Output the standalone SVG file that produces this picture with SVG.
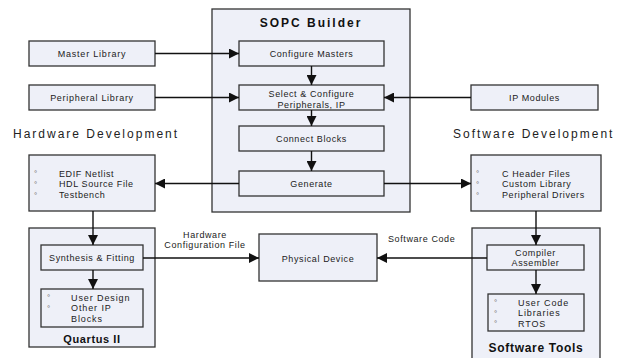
<svg xmlns="http://www.w3.org/2000/svg" width="619" height="358" viewBox="0 0 619 358">
<style>
.box{fill:#eef0f8;stroke:#333;stroke-width:1.3}
.t{font-family:"Liberation Sans",Arial,sans-serif;font-size:9px;letter-spacing:0.6px;fill:#222}
.c{text-anchor:middle}
.h{font-family:"Liberation Sans",Arial,sans-serif;font-size:12px;letter-spacing:2px;fill:#222}
.b{font-family:"Liberation Sans",Arial,sans-serif;font-weight:bold;font-size:12px;text-anchor:middle;fill:#111}
.bul{font-family:"Liberation Sans",Arial,sans-serif;font-size:8px;fill:#666}
.ln{stroke:#111;stroke-width:1.4;fill:none}
.arr{marker-end:url(#ah)}
</style>
<defs>
<marker id="ah" markerUnits="userSpaceOnUse" markerWidth="10" markerHeight="10" viewBox="0 0 10 10" refX="10" refY="5" orient="auto">
<path d="M0,0 L10,5 L0,10 Z" fill="#111"/>
</marker>
</defs>

<g id="sopc">
<rect class="box" x="212" y="9" width="198" height="203"/>
<text class="b" x="311" y="27" style="letter-spacing:2px">SOPC Builder</text>
</g>
<g id="configure-masters">
<rect class="box" x="239" y="41" width="145" height="25"/>
<text class="t c" x="311.5" y="57">Configure Masters</text>
</g>
<g id="select-configure">
<rect class="box" x="239" y="85" width="145" height="25"/>
<text class="t c" x="311.5" y="97">Select &amp; Configure</text>
<text class="t c" x="311.5" y="107.5">Peripherals, IP</text>
</g>
<g id="connect-blocks">
<rect class="box" x="239" y="126" width="145" height="25"/>
<text class="t c" x="311.5" y="141.5">Connect Blocks</text>
</g>
<g id="generate">
<rect class="box" x="239" y="171" width="145" height="25"/>
<text class="t c" x="311.5" y="186.5">Generate</text>
</g>
<g id="master-library">
<rect class="box" x="29" y="41" width="126" height="25"/>
<text class="t c" x="92" y="57" style="letter-spacing:0.8px">Master Library</text>
</g>
<g id="peripheral-library">
<rect class="box" x="29" y="85" width="126" height="25"/>
<text class="t c" x="92" y="101" style="letter-spacing:0.7px">Peripheral Library</text>
</g>
<g id="ip-modules">
<rect class="box" x="471" y="85" width="127" height="25"/>
<text class="t c" x="534.5" y="101">IP Modules</text>
</g>

<text class="h" x="13" y="138">Hardware Development</text>
<text class="h" x="453" y="138">Software Development</text>

<g id="hw-files">
<rect class="box" x="29" y="155" width="126" height="56"/>
<text class="bul" x="34" y="176">°</text>
<text class="bul" x="34" y="187">°</text>
<text class="bul" x="34" y="197.5">°</text>
<text class="t" x="59" y="176.5">EDIF Netlist</text>
<text class="t" x="59" y="187">HDL Source File</text>
<text class="t" x="59" y="197.5">Testbench</text>
</g>
<g id="quartus">
<rect class="box" x="29" y="228" width="126" height="119"/>
<text class="b" x="92" y="343" style="font-size:11px;letter-spacing:0.6px">Quartus II</text>
</g>
<g id="synthesis">
<rect class="box" x="41" y="245" width="102" height="25"/>
<text class="t c" x="92" y="261">Synthesis &amp; Fitting</text>
</g>
<g id="user-design">
<rect class="box" x="41" y="289" width="102" height="38"/>
<text class="bul" x="47" y="300">°</text>
<text class="bul" x="47" y="310.5">°</text>
<text class="t" x="71" y="300.5" style="letter-spacing:0.9px">User Design</text>
<text class="t" x="71" y="311" style="letter-spacing:0.9px">Other IP</text>
<text class="t" x="71" y="321.5" style="letter-spacing:0.9px">Blocks</text>
</g>
<g id="physical-device">
<rect class="box" x="259" y="234" width="118" height="47"/>
<text class="t c" x="318" y="261.5">Physical Device</text>
</g>
<g id="sw-files">
<rect class="box" x="471" y="155" width="130" height="56"/>
<text class="bul" x="476" y="176">°</text>
<text class="bul" x="476" y="187">°</text>
<text class="bul" x="476" y="197.5">°</text>
<text class="t" x="502" y="176.5">C Header Files</text>
<text class="t" x="502" y="187">Custom Library</text>
<text class="t" x="502" y="197.5">Peripheral Drivers</text>
</g>
<g id="software-tools">
<rect class="box" x="472" y="228" width="128" height="140"/>
<text class="b" x="536" y="352" style="letter-spacing:0.7px">Software Tools</text>
</g>
<g id="compiler">
<rect class="box" x="487" y="245" width="97" height="25"/>
<text class="t c" x="535.5" y="255.5">Compiler</text>
<text class="t c" x="535.5" y="266">Assembler</text>
</g>
<g id="user-code">
<rect class="box" x="488" y="294" width="96" height="37"/>
<text class="bul" x="494" y="305">°</text>
<text class="bul" x="494" y="315.5">°</text>
<text class="bul" x="494" y="326">°</text>
<text class="t" x="518" y="305.5" style="letter-spacing:0.9px">User Code</text>
<text class="t" x="518" y="316" style="letter-spacing:0.9px">Libraries</text>
<text class="t" x="518" y="326.5" style="letter-spacing:0.9px">RTOS</text>
</g>

<g id="connectors">
<line class="ln arr" x1="155" y1="53.5" x2="239" y2="53.5"/>
<line class="ln arr" x1="155" y1="97.5" x2="239" y2="97.5"/>
<line class="ln arr" x1="471" y1="97.5" x2="384" y2="97.5"/>
<line class="ln arr" x1="311.5" y1="66" x2="311.5" y2="85"/>
<line class="ln arr" x1="311.5" y1="110" x2="311.5" y2="126"/>
<line class="ln arr" x1="311.5" y1="151" x2="311.5" y2="171"/>
<line class="ln arr" x1="239" y1="183.5" x2="155" y2="183.5"/>
<line class="ln arr" x1="384" y1="183.5" x2="471" y2="183.5"/>
<line class="ln arr" x1="93" y1="211" x2="93" y2="245"/>
<line class="ln arr" x1="93" y1="270" x2="93" y2="289"/>
<line class="ln arr" x1="143" y1="258" x2="259" y2="258"/>
<line class="ln arr" x1="487" y1="258" x2="377" y2="258"/>
<line class="ln arr" x1="536" y1="211" x2="536" y2="245"/>
<line class="ln arr" x1="536" y1="270" x2="536" y2="294"/>
<text class="t c" x="205" y="238">Hardware</text>
<text class="t c" x="205" y="248">Configuration File</text>
<text class="t" x="388" y="242">Software Code</text>
</g>
</svg>
